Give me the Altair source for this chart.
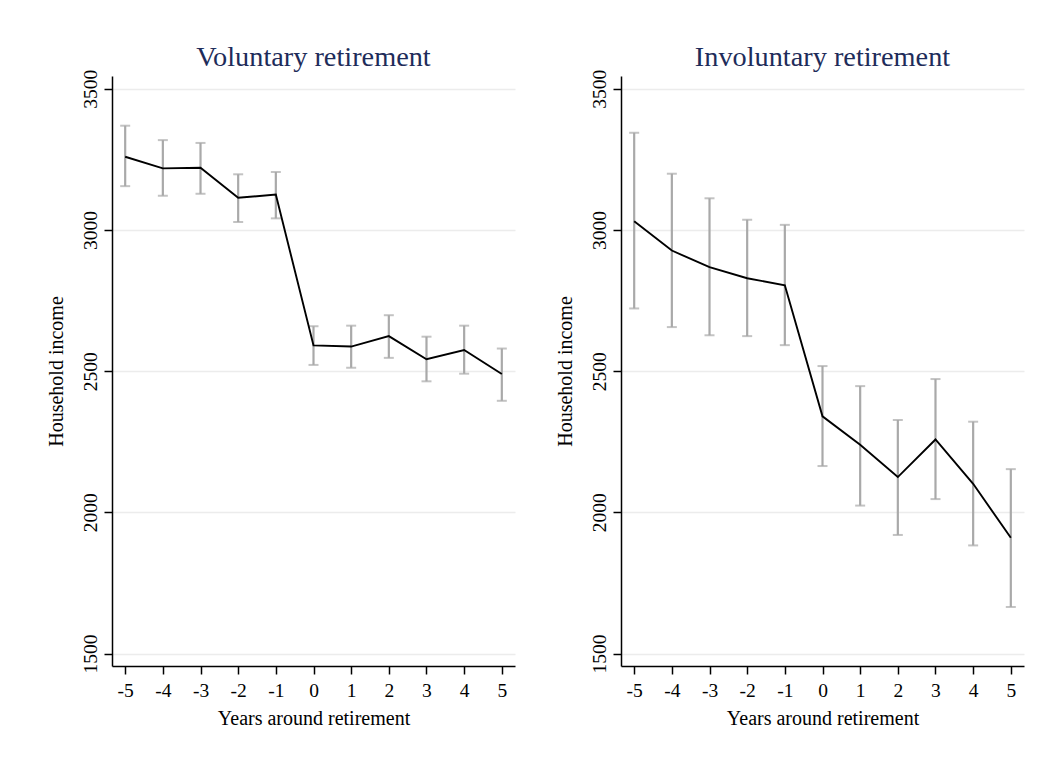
import altair as alt
import pandas as pd

years = [-5, -4, -3, -2, -1, 0, 1, 2, 3, 4, 5]

vol_mean = [3259, 3218, 3220, 3114, 3125, 2591, 2587, 2624, 2542, 2575, 2490]
vol_lo   = [3155, 3121, 3128, 3028, 3041, 2522, 2512, 2547, 2464, 2491, 2395]
vol_hi   = [3369, 3318, 3308, 3197, 3205, 2659, 2661, 2698, 2622, 2661, 2580]

inv_mean = [3031, 2927, 2868, 2829, 2804, 2340, 2239, 2125, 2258, 2101, 1910]
inv_lo   = [2722, 2656, 2627, 2624, 2592, 2164, 2024, 1920, 2047, 1883, 1665]
inv_hi   = [3344, 3199, 3112, 3036, 3018, 2518, 2447, 2327, 2472, 2321, 2153]

titles = ["Voluntary retirement", "Involuntary retirement"]
y_ticks = [1500, 2000, 2500, 3000, 3500]
x_title = "Years around retirement"
y_title = "Household income"

FONT = "Liberation Serif"


def panel(title, mean, lo, hi):
    df = pd.DataFrame({"year": years, "mean": mean, "lo": lo, "hi": hi})
    xenc = alt.X(
        "year:Q",
        scale=alt.Scale(domain=[-5.35, 5.35], nice=False, zero=False),
        axis=alt.Axis(
            values=years,
            labelExpr="datum.value + ''",
            title=x_title,
            grid=False,
            tickSize=8,
            labelPadding=7,
            titlePadding=9,
        ),
    )
    yscale = alt.Scale(domain=[1456, 3545], nice=False, zero=False)
    yaxis = alt.Axis(
        values=y_ticks,
        format="d",
        title=y_title,
        grid=True,
        tickSize=8,
        labelAngle=270,
        labelAlign="center",
        labelBaseline="bottom",
        labelPadding=3.5,
        titlePadding=14,
    )
    base = alt.Chart(df)
    rules = base.mark_rule(color="#a9a9a9", strokeWidth=2.2).encode(
        x=xenc,
        y=alt.Y("lo:Q", scale=yscale, axis=yaxis),
        y2="hi:Q",
    )
    caps_lo = base.mark_tick(orient="horizontal", color="#a9a9a9", size=10, thickness=2).encode(
        x="year:Q", y="lo:Q"
    )
    caps_hi = base.mark_tick(orient="horizontal", color="#a9a9a9", size=10, thickness=2).encode(
        x="year:Q", y="hi:Q"
    )
    line = base.mark_line(color="black", strokeWidth=1.9).encode(
        x="year:Q", y="mean:Q"
    )
    return alt.layer(rules, caps_lo, caps_hi, line).properties(
        width=403,
        height=590,
        title=alt.TitleParams(
            title,
            font=FONT,
            fontSize=28.3,
            fontWeight="normal",
            color="#1e2c5a",
            anchor="middle",
            baseline="bottom",
            frame="group",
            offset=-31,
        ),
    )


chart = alt.hconcat(
    panel(titles[0], vol_mean, vol_lo, vol_hi),
    panel(titles[1], inv_mean, inv_lo, inv_hi),
    spacing=40,
).properties(
    padding={"left": 38, "top": 34, "right": 5, "bottom": 5},
    background="white",
).configure_view(
    stroke=None
).configure_axis(
    labelFont=FONT,
    titleFont=FONT,
    labelFontSize=19.5,
    titleFontSize=20,
    titleFontWeight="normal",
    labelColor="black",
    titleColor="black",
    domainColor="black",
    domainWidth=1.5,
    tickColor="black",
    tickWidth=1.5,
    gridColor="#ececec",
    gridWidth=1.5,
)

chart.save("out.html", embed_options={"renderer": "svg", "actions": False})
